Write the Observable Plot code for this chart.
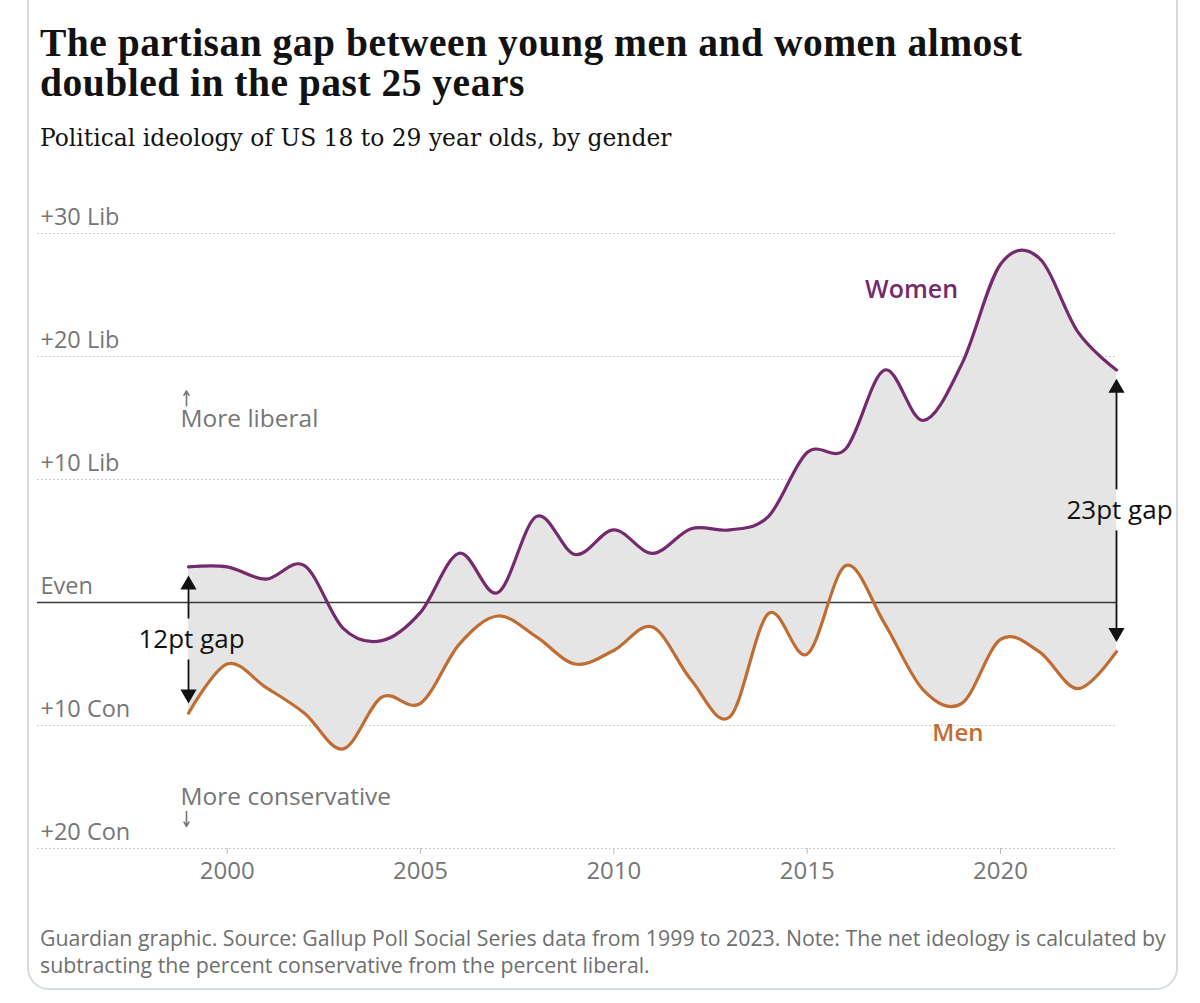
<!DOCTYPE html>
<html>
<head>
<meta charset="utf-8">
<script src="https://cdn.jsdelivr.net/npm/d3@7"></script>
<script src="https://cdn.jsdelivr.net/npm/@observablehq/plot@0.6"></script>
<style>
  html, body { margin: 0; padding: 0; background: #fff; }
  body { width: 1200px; height: 1003px; position: relative; overflow: hidden; }
  .card { position: absolute; left: 27px; top: -40px; width: 1151px; height: 1030px;
          border: 2px solid #d3dce1; border-radius: 22px; box-sizing: border-box; }
  .title { position: absolute; left: 40px; font-family: "Liberation Serif", serif;
           font-weight: 700; font-size: 39.5px; line-height: 40px; color: #121212; letter-spacing: 0.5px; white-space: nowrap; }
  .subtitle { position: absolute; left: 40px; top: 123px; font-family: "DejaVu Serif", serif;
              font-size: 23.4px; line-height: 30px; color: #121212; white-space: nowrap; }
  .caption { position: absolute; left: 40px; top: 924px; font-family: "Open Sans", sans-serif;
             font-size: 21.3px; line-height: 27px; color: #6f6f6f; white-space: nowrap; }
  #chart { position: absolute; left: 0; top: 190px; }
</style>
</head>
<body>
<div class="card"></div>
<div class="title" style="top: 23px;">The partisan gap between young men and women almost</div>
<div class="title" style="top: 63px;">doubled in the past 25 years</div>
<div class="subtitle">Political ideology of US 18 to 29 year olds, by gender</div>
<div id="chart"></div>
<div class="caption">Guardian graphic. Source: Gallup Poll Social Series data from 1999 to 2023. Note: The net ideology is calculated by<br>subtracting the percent conservative from the percent liberal.</div>
<script>
const years = [1999, 2000, 2001, 2002, 2003, 2004, 2005, 2006, 2007, 2008, 2009, 2010, 2011,
               2012, 2013, 2014, 2015, 2016, 2017, 2018, 2019, 2020, 2021, 2022, 2023];
const women = [2.9, 2.9, 1.9, 3.0, -2.1, -3.1, -0.8, 4.0, 0.8, 7.0, 3.9, 5.9, 4.0,
               6.0, 5.9, 7.0, 12.2, 12.5, 18.9, 14.8, 19.4, 27.5, 28.0, 22.0, 18.9];
const men   = [-9.0, -5.0, -6.9, -9.0, -11.9, -7.7, -8.2, -3.4, -1.1, -2.8, -5.0, -3.9, -2.0,
               -6.3, -9.3, -0.9, -4.2, 3.0, -1.7, -7.1, -8.2, -3.0, -4.0, -7.0, -4.0];
const gridValues = [30, 20, 10, -10, -20];
const yTickValues = [30, 20, 10, 0, -10, -20];
const yTickLabels = ["+30 Lib", "+20 Lib", "+10 Lib", "Even", "+10 Con", "+20 Con"];
const xTickValues = [2000, 2005, 2010, 2015, 2020];

const rows = years.map((year, i) => ({year, women: women[i], men: men[i]}));
const first = rows[0], last = rows[rows.length - 1];
const gaps = [first, last].map(d => ({
  year: d.year, women: d.women, men: d.men, mid: (d.women + d.men) / 2,
  label: Math.round(d.women - d.men) + "pt gap"
}));

const purple = "#742a6c";
const orange = "#c06d33";
const grey = "#767676";
const sans = "Open Sans, sans-serif";
const curve = "cardinal";

const chart = Plot.plot({
  width: 1200,
  height: 700,
  marginTop: 43,
  marginBottom: 42,
  marginLeft: 37,
  marginRight: 84,
  style: {fontFamily: sans, background: "transparent", overflow: "visible"},
  x: {domain: [1999, 2023], range: [188, 1116], label: null},
  y: {domain: [-20, 30], label: null, axis: null},
  marks: [
    Plot.ruleY(gridValues, {stroke: "#bdbdbd", strokeWidth: 1, strokeDasharray: "1.5,2.5"}),
    Plot.areaY(rows, {x: "year", y1: "men", y2: "women", fill: "#e5e5e5", curve}),
    Plot.ruleY([0], {stroke: "#3a3a3a", strokeWidth: 1.3}),
    Plot.lineY(rows, {x: "year", y: "women", stroke: purple, strokeWidth: 3.2, curve}),
    Plot.lineY(rows, {x: "year", y: "men", stroke: orange, strokeWidth: 3.2, curve}),
    Plot.text(yTickValues, {y: d => d, text: (d, i) => yTickLabels[i], frameAnchor: "left",
      textAnchor: "start", dx: 3, dy: -16, fill: grey, fontSize: 23.5}),
    Plot.axisX({ticks: xTickValues, tickFormat: d => String(d), tickSize: 6, tickPadding: 7,
      stroke: "#bbb", fill: grey, fontSize: 24, label: null}),
    // gap arrow shafts
    Plot.ruleX(gaps, {x: "year", y1: "women", y2: "mid", insetTop: 20, insetBottom: 21, stroke: "#111", strokeWidth: 1.8}),
    Plot.ruleX(gaps, {x: "year", y1: "mid", y2: "men", insetTop: 20, insetBottom: 20, stroke: "#111", strokeWidth: 1.8}),
    // gap arrow heads
    Plot.dot(gaps, {x: "year", y: "women", symbol: "triangle", r: 6, fill: "#111", dy: 18}),
    Plot.dot(gaps, {x: "year", y: "men", symbol: "triangle", r: 6, fill: "#111", rotate: 180, dy: -19}),
    Plot.text(gaps, {x: "year", y: "mid", text: "label", fill: "#111", fontSize: 26, fontWeight: 500, dx: 3}),
    // annotations
    Plot.text(["Women"], {x: 2017.7, y: 25.4, text: d => d, fill: purple, fontSize: 25, fontWeight: 600}),
    Plot.text(["Men"], {x: 2018.9, y: -10.6, text: d => d, fill: orange, fontSize: 24, fontWeight: 600}),
    Plot.arrow([{x: 1999, y1: 16.0, y2: 17.2}], {x: "x", y1: "y1", y2: "y2", dx: -2,
      stroke: grey, strokeWidth: 1.6, headLength: 8}),
    Plot.text(["More liberal"], {x: 1999, y: 14.9, text: d => d, dx: -8, textAnchor: "start", fill: grey, fontSize: 24.5}),
    Plot.text(["More conservative"], {x: 1999, y: -15.8, text: d => d, dx: -8, textAnchor: "start", fill: grey, fontSize: 24.5}),
    Plot.arrow([{x: 1999, y1: -17.0, y2: -18.2}], {x: "x", y1: "y1", y2: "y2", dx: -2,
      stroke: grey, strokeWidth: 1.6, headLength: 8})
  ]
});
document.getElementById("chart").append(chart);
</script>
</body>
</html>
